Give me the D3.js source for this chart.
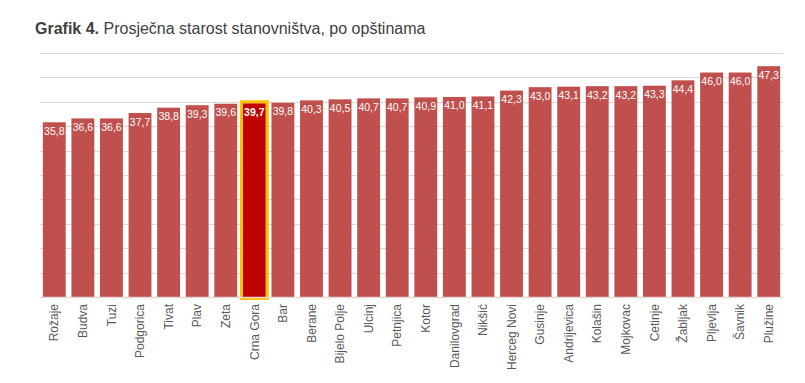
<!DOCTYPE html>
<html>
<head>
<meta charset="utf-8">
<script src="https://cdn.jsdelivr.net/npm/d3@7"></script>
<style>
  body { margin: 0; background: #fff; }
  svg { display: block; font-family: "Liberation Sans", Arial, sans-serif; }
</style>
</head>
<body>
<svg id="chart" width="805" height="383"></svg>
<script>
const categories = ["Rožaje","Budva","Tuzi","Podgorica","Tivat","Plav","Zeta","Crna Gora","Bar","Berane","Bijelo Polje","Ulcinj","Petnjica","Kotor","Danilovgrad","Nikšić","Herceg Novi","Gusinje","Andrijevica","Kolašin","Mojkovac","Cetinje","Žabljak","Pljevlja","Šavnik","Plužine"];
const values = [35.8,36.6,36.6,37.7,38.8,39.3,39.6,39.7,39.8,40.3,40.5,40.7,40.7,40.9,41.0,41.1,42.3,43.0,43.1,43.2,43.2,43.3,44.4,46.0,46.0,47.3];
const highlighted = ["Crna Gora"];
const yTicks = [0,5,10,15,20,25,30,35,40,45,50];
const titleBold = "Grafik 4.";
const titleRest = " Prosječna starost stanovništva, po opštinama";

const data = categories.map((c, i) => ({ name: c, value: values[i] }));
const svg = d3.select("#chart");

const x = d3.scaleBand().domain(categories).range([40, 783]).paddingInner(0.2).paddingOuter(0.1);
const y = d3.scaleLinear().domain([0, 50]).range([297, 53]);

// title
const t = svg.append("text").attr("x", 35).attr("y", 34)
  .attr("font-size", 16).attr("fill", "#404040");
t.append("tspan").attr("font-weight", "bold").text(titleBold);
t.append("tspan").text(titleRest);

// gridlines
svg.append("g").selectAll("line").data(yTicks.filter(d => d > 0)).join("line")
  .attr("x1", 40).attr("x2", 783)
  .attr("y1", d => Math.round(y(d)) + 0.5).attr("y2", d => Math.round(y(d)) + 0.5)
  .attr("stroke", "#d9d9d9").attr("stroke-width", 1);

// bars
svg.append("g").selectAll("rect").data(data).join("rect")
  .attr("x", d => x(d.name)).attr("width", x.bandwidth())
  .attr("y", d => y(d.value)).attr("height", d => y(0) - y(d.value))
  .attr("fill", d => highlighted.includes(d.name) ? "#c00000" : "#c0504d");

// highlight border
svg.append("g").selectAll("rect").data(data.filter(d => highlighted.includes(d.name))).join("rect")
  .attr("x", d => x(d.name) - 1.5).attr("width", x.bandwidth() + 3)
  .attr("y", d => y(d.value) - 1.5).attr("height", d => y(0) - y(d.value) + 3)
  .attr("fill", "none").attr("stroke", "#ffc000").attr("stroke-width", 3);

// baseline
svg.append("line").attr("x1", 40).attr("x2", 783)
  .attr("y1", y(0) + 0.5).attr("y2", y(0) + 0.5)
  .attr("stroke", "#e6d6d6").attr("stroke-width", 1.5);

// value labels
svg.append("g").selectAll("text").data(data).join("text")
  .attr("x", d => x(d.name) + x.bandwidth() / 2)
  .attr("y", d => y(d.value) + 12.5)
  .attr("text-anchor", "middle").attr("font-size", 10.5)
  .attr("font-weight", d => highlighted.includes(d.name) ? "bold" : "normal")
  .attr("fill", "#ffffff")
  .text(d => d.value.toFixed(1).replace(".", ","));

// x axis labels
const xAxis = d3.axisBottom(x).tickSize(0).tickPadding(0);
const gx = svg.append("g").attr("transform", `translate(0,${y(0)})`).call(xAxis);
gx.select(".domain").remove();
gx.selectAll(".tick text")
  .attr("transform", "rotate(-90)")
  .attr("x", -7).attr("y", 0).attr("dy", "0.35em")
  .attr("text-anchor", "end")
  .attr("font-size", 12).attr("font-family", "'Liberation Sans', Arial, sans-serif")
  .attr("fill", "#595959");
</script>
</body>
</html>
